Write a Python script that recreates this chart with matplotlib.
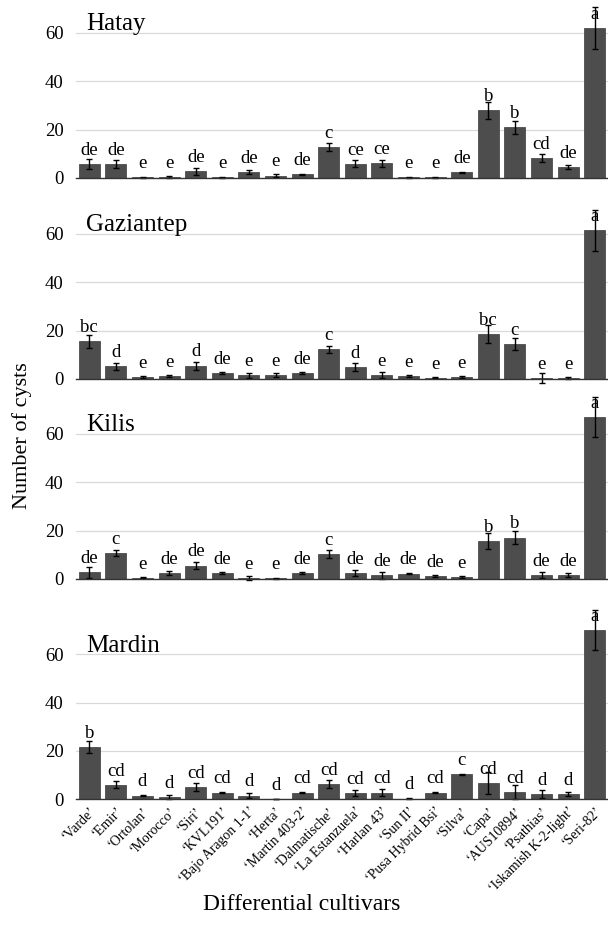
import matplotlib
matplotlib.use("Agg")
import matplotlib.pyplot as plt
import numpy as np

plt.rcParams['font.family'] = ['Liberation Serif', 'DejaVu Serif']

cultivars = ["‘Varde’", "‘Emir’", "‘Ortolan’", "‘Morocco’", "‘Siri’", "‘KVL191’",
             "‘Bajo Aragon 1-1’", "‘Herta’", "‘Martin 403-2’", "‘Dalmatische’",
             "‘La Estanzuela’", "‘Harlan 43’", "‘Sun II’", "‘Pusa Hybrid Bsi’",
             "‘Silva’", "‘Capa’", "‘AUS10894’", "‘Psathias’",
             "‘Iskamish K-2-light’", "‘Seri-82’"]

regions = ["Hatay", "Gaziantep", "Kilis", "Mardin"]

hatay = [5.8, 5.8, 0.3, 0.5, 2.7, 0.3, 2.5, 1.0, 1.5, 12.9, 5.9, 6.1, 0.3, 0.3, 2.3, 28.0, 21.0, 8.3, 4.5, 62.1]
hatay_err = [2.0, 1.5, 0.2, 0.5, 1.3, 0.2, 1.0, 0.8, 0.3, 1.6, 1.5, 1.5, 0.2, 0.2, 0.3, 3.5, 2.7, 1.5, 0.7, 8.6]
hatay_lab = ['de', 'de', 'e', 'e', 'de', 'e', 'de', 'e', 'de', 'c', 'ce', 'ce', 'e', 'e', 'de', 'b', 'b', 'cd', 'de', 'a']

gaz = [15.5, 5.3, 0.8, 1.2, 5.5, 2.5, 1.5, 1.5, 2.5, 12.2, 5.0, 1.5, 1.2, 0.5, 0.8, 18.5, 14.5, 0.3, 0.3, 61.4]
gaz_err = [2.5, 1.5, 0.3, 0.5, 1.7, 0.4, 1.0, 0.8, 0.4, 1.5, 1.5, 1.3, 0.4, 0.2, 0.3, 3.7, 2.6, 2.0, 0.5, 8.5]
gaz_lab = ['bc', 'd', 'e', 'e', 'd', 'de', 'e', 'e', 'de', 'c', 'd', 'e', 'e', 'e', 'e', 'bc', 'c', 'e', 'e', 'a']

kilis = [2.7, 10.6, 0.5, 2.5, 5.5, 2.5, 0.5, 0.3, 2.5, 10.3, 2.5, 1.5, 2.2, 1.3, 0.8, 15.6, 17.1, 1.5, 1.5, 66.8]
kilis_err = [2.2, 1.2, 0.3, 0.8, 1.5, 0.3, 0.8, 0.2, 0.3, 1.6, 1.2, 1.5, 0.3, 0.3, 0.3, 3.4, 2.6, 1.3, 0.8, 8.2]
kilis_lab = ['de', 'c', 'e', 'de', 'de', 'de', 'e', 'e', 'de', 'c', 'de', 'de', 'de', 'de', 'e', 'b', 'b', 'de', 'de', 'a']

mardin = [21.6, 6.0, 1.5, 1.0, 5.0, 2.8, 1.5, 0.2, 2.8, 6.3, 2.7, 2.8, 0.3, 2.8, 10.3, 6.7, 3.0, 2.2, 2.3, 70.0]
mardin_err = [2.3, 1.5, 0.3, 0.8, 1.7, 0.4, 1.0, 0.1, 0.3, 1.8, 1.3, 1.3, 0.1, 0.3, 0.2, 4.5, 3.0, 1.5, 0.8, 8.3]
mardin_lab = ['b', 'cd', 'd', 'd', 'cd', 'cd', 'd', 'd', 'cd', 'cd', 'cd', 'cd', 'd', 'cd', 'c', 'cd', 'cd', 'd', 'd', 'a']

panels = [(hatay, hatay_err, hatay_lab), (gaz, gaz_err, gaz_lab),
          (kilis, kilis_err, kilis_lab), (mardin, mardin_err, mardin_lab)]

fig = plt.figure(figsize=(6.08, 9.25), dpi=100)

bottoms = [0.8076, 0.5903, 0.3741, 0.1359]
left, width, height = 0.125, 0.875, 0.1831

x = np.arange(len(cultivars))
for k, (name, (vals, errs, labs)) in enumerate(zip(regions, panels)):
    ax = fig.add_axes([left, bottoms[k], width, height])
    ax.bar(x, vals, width=0.79, color='#4d4d4d', edgecolor='#3a3a3a', linewidth=0.5, zorder=3)
    ax.errorbar(x, vals, yerr=errs, fmt='none', ecolor='black', elinewidth=1.0,
                capsize=2.5, capthick=1.0, zorder=4, clip_on=False)
    for xi, v, lab in zip(x, vals, labs):
        ax.annotate(lab, (xi, v), xytext=(0, 6.6), textcoords='offset points',
                    ha='center', va='baseline', fontsize=13.5, zorder=5,
                    annotation_clip=False)
    ax.set_xlim(-0.5, len(cultivars) - 0.5)
    ax.set_ylim(0, 70)
    ax.set_yticks([0, 20, 40, 60])
    ax.tick_params(axis='y', length=0, labelsize=13.5, pad=9)
    ax.grid(axis='y', color='#d9d9d9', linewidth=0.9, zorder=0)
    for s in ['top', 'right', 'left']:
        ax.spines[s].set_visible(False)
    ax.spines['bottom'].set_color('#333333')
    ax.spines['bottom'].set_linewidth(1.0)
    ax.spines['bottom'].set_zorder(6)
    ax.text(0.019, 61, name, transform=ax.get_yaxis_transform(), fontsize=18,
            ha='left', va='baseline')
    if k < 3:
        ax.set_xticks([])
    else:
        ax.set_xticks(x)
        ax.set_xticklabels(cultivars, rotation=45, ha='right', rotation_mode='anchor',
                           fontsize=10)
        ax.tick_params(axis='x', length=0, pad=4)

fig.text(0.036, 0.529, 'Number of cysts', rotation=90, ha='center', va='center', fontsize=16)
fig.text(0.497, 0.022, 'Differential cultivars', ha='center', va='center', fontsize=17)

fig.savefig('out.png', dpi=100)
